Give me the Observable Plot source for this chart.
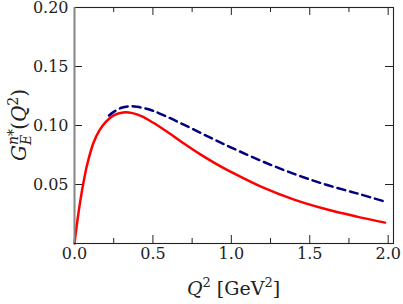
<!DOCTYPE html>
<html><head><meta charset="utf-8">
<script src="https://cdn.jsdelivr.net/npm/d3@7"></script>
<script src="https://cdn.jsdelivr.net/npm/@observablehq/plot@0.6"></script>
<style>body{margin:0;background:#fff} svg{display:block}</style>
</head><body><div id="chart"></div>
<script>
const redQ2 = [0, 0.017, 0.038, 0.059, 0.081, 0.12, 0.16, 0.2, 0.25, 0.31, 0.37, 0.43, 0.5, 0.6, 0.7, 0.8, 0.9, 1.0, 1.2, 1.4, 1.6, 1.8, 1.98];
const redG  = [0, 0.018, 0.037, 0.053, 0.067, 0.085, 0.096, 0.103, 0.1085, 0.111, 0.1105, 0.1078, 0.1025, 0.0938, 0.0845, 0.0757, 0.0677, 0.0605, 0.0475, 0.0372, 0.0292, 0.0228, 0.0177];
const blueQ2 = [0.22, 0.25, 0.3, 0.35, 0.4, 0.45, 0.5, 0.6, 0.7, 0.8, 0.9, 1.0, 1.2, 1.4, 1.6, 1.8, 1.98];
const blueG  = [0.1085, 0.1115, 0.115, 0.1163, 0.1158, 0.1145, 0.1125, 0.1068, 0.1005, 0.094, 0.0875, 0.0813, 0.0695, 0.059, 0.050, 0.0425, 0.0355];
const xTicks = [0, 0.5, 1, 1.5, 2];
const xTickLabels = ["0.0", "0.5", "1.0", "1.5", "2.0"];
const xMinor = [0.25, 0.75, 1.25, 1.75];
const yTicks = [0.05, 0.1, 0.15, 0.2];
const yTickLabels = ["0.05", "0.10", "0.15", "0.20"];

const red = redQ2.map((q, i) => ({q, g: redG[i]}));
const blue = blueQ2.map((q, i) => ({q, g: blueG[i]}));

const W = 403, H = 304, mL = 74, mR = 10, mT = 7, mB = 61;
const pw = W - mL - mR, ph = H - mT - mB;
const ink = "#222";
const serif = "DejaVu Serif";

const svg = Plot.plot({
  width: W, height: H, marginLeft: mL, marginRight: mR, marginTop: mT, marginBottom: mB,
  style: {fontFamily: serif, fontSize: "16px", background: "#fff", color: ink},
  x: {domain: [0, 2.034]},
  y: {domain: [0, 0.2]},
  marks: [
    Plot.axisX(xTicks, {tickSize: 0, tickPadding: 4, tickFormat: d => xTickLabels[xTicks.indexOf(d)], label: null, fontSize: 16, fontFamily: serif}),
    Plot.axisY(yTicks, {tickSize: 0, tickPadding: 6, tickFormat: d => yTickLabels[yTicks.indexOf(d)], label: null, fontSize: 16, fontFamily: serif}),
    Plot.line(red, {x: "q", y: "g", stroke: "#ff0000", strokeWidth: 2.5, curve: "catmull-rom"}),
    Plot.line(blue, {x: "q", y: "g", stroke: "#000080", strokeWidth: 2.5, strokeDasharray: "8,5", curve: "catmull-rom"}),
    Plot.tickX(xTicks, {x: d => d, stroke: ink, insetTop: ph - 8}),
    Plot.tickX(xMinor, {x: d => d, stroke: ink, insetTop: ph - 5}),
    Plot.tickX(xTicks, {x: d => d, stroke: ink, insetBottom: ph - 8}),
    Plot.tickX(xMinor, {x: d => d, stroke: ink, insetBottom: ph - 5}),
    Plot.tickY(yTicks, {y: d => d, stroke: ink, insetRight: pw - 8}),
    Plot.tickY(yTicks, {y: d => d, stroke: ink, insetLeft: pw - 8}),
    Plot.frame({stroke: ink, strokeWidth: 1.1}),
    Plot.ruleX([0], {stroke: "#888", strokeWidth: 2})
  ]
});

const s = d3.select(svg);
// x label
const xl = s.append("text")
  .attr("x", mL + pw / 2).attr("y", 295)
  .attr("text-anchor", "middle")
  .attr("font-family", serif)
  .attr("font-size", 19).attr("fill", ink);
xl.append("tspan").attr("font-style", "italic").text("Q");
xl.append("tspan").attr("font-size", 13).attr("dy", -8).text("2");
xl.append("tspan").attr("dy", 8).text(" [GeV");
xl.append("tspan").attr("font-size", 13).attr("dy", -8).text("2");
xl.append("tspan").attr("dy", 8).text("]");

// y label
const yl = s.append("text")
  .attr("transform", `translate(26,${mT + ph / 2}) rotate(-90)`)
  .attr("text-anchor", "middle")
  .attr("font-family", serif)
  .attr("font-size", 20).attr("fill", ink);
yl.append("tspan").attr("font-style", "italic").text("G");
yl.append("tspan").attr("font-style", "italic").attr("font-size", 14).attr("dy", -8).text("n");
yl.append("tspan").attr("font-size", 14).text("*");
yl.append("tspan").attr("font-style", "italic").attr("font-size", 14).attr("dx", -16).attr("dy", 13).text("E");
yl.append("tspan").attr("dx", 5).attr("dy", -5).text("(");
yl.append("tspan").attr("font-style", "italic").text("Q");
yl.append("tspan").attr("font-size", 14).attr("dy", -8).text("2");
yl.append("tspan").attr("dy", 8).text(")");

document.getElementById("chart").appendChild(svg);
</script>
</body></html>
